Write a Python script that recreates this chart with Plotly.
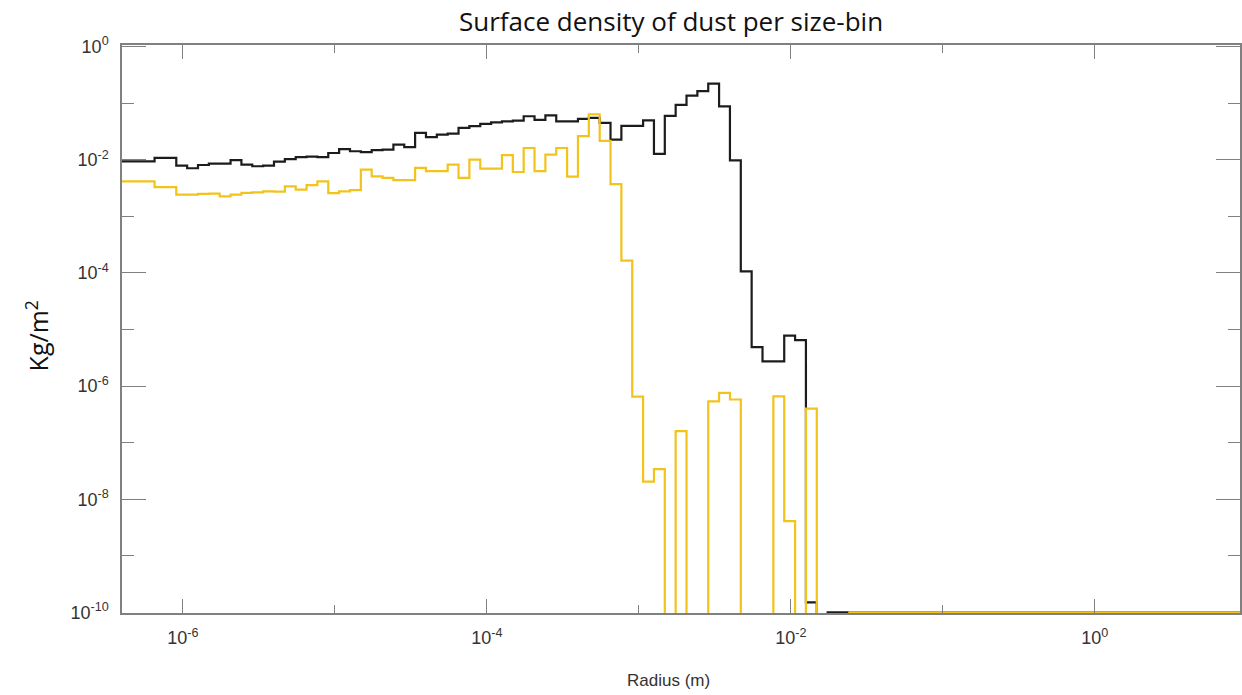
import numpy as np
import plotly.graph_objects as go

# Logarithmic radius grid: 14 bins per decade starting at ~4e-7 m
LOG_R_MIN = -6.401
BINS_PER_DECADE = 14
N_BINS = 103

# Surface density per size bin (kg/m^2); 0 = empty bin, 1e-10 = floor value
sigma_black = [
    9.4e-3, 9.4e-3, 9.4e-3, 1.08e-2, 1.08e-2, 7.9e-3, 7.1e-3, 8.1e-3, 8.6e-3, 8.6e-3,
    9.9e-3, 8.2e-3, 7.7e-3, 7.9e-3, 9.3e-3, 1.03e-2, 1.12e-2, 1.14e-2, 1.12e-2, 1.32e-2,
    1.55e-2, 1.42e-2, 1.37e-2, 1.48e-2, 1.51e-2, 1.86e-2, 1.68e-2, 2.99e-2, 2.52e-2, 2.79e-2,
    2.90e-2, 3.66e-2, 3.94e-2, 4.31e-2, 4.6e-2, 4.8e-2, 4.93e-2, 5.9e-2, 5.1e-2, 6.1e-2,
    4.8e-2, 4.8e-2, 5.3e-2, 5.5e-2, 4.5e-2, 2.27e-2, 4.0e-2, 4.0e-2, 5.0e-2, 1.27e-2,
    6.0e-2, 9.4e-2, 0.136, 0.164, 0.222, 8.8e-2, 9.8e-3, 1.07e-4, 4.9e-6, 2.75e-6,
    2.75e-6, 7.8e-6, 6.5e-6, 1.5e-10, 0.0,
] + [1e-10] * 38

sigma_yellow = [
    4.17e-3, 4.17e-3, 4.17e-3, 3.3e-3, 3.3e-3, 2.43e-3, 2.43e-3, 2.5e-3, 2.53e-3, 2.27e-3,
    2.43e-3, 2.6e-3, 2.67e-3, 2.78e-3, 2.74e-3, 3.4e-3, 2.97e-3, 3.57e-3, 4.17e-3, 2.58e-3,
    2.78e-3, 2.92e-3, 6.7e-3, 5.1e-3, 4.8e-3, 4.38e-3, 4.38e-3, 7.2e-3, 6.3e-3, 6.3e-3,
    8.2e-3, 4.8e-3, 1.01e-2, 7.0e-3, 7.0e-3, 1.21e-2, 6.1e-3, 1.62e-2, 6.3e-3, 1.24e-2,
    1.62e-2, 5.05e-3, 2.62e-2, 6.4e-2, 2.17e-2, 3.72e-3, 1.66e-4, 6.5e-7, 2.06e-8, 3.4e-8,
    0.0, 1.6e-7, 0.0, 0.0, 5.4e-7, 7.6e-7, 5.8e-7, 0.0, 0.0, 0.0,
    6.6e-7, 4.1e-9, 0.0, 4.0e-7, 0.0, 0.0, 0.0,
] + [1e-10] * 36

x_tickvals = [1e-6, 1e-4, 1e-2, 1e0]
x_ticktext = ["10<sup>-6</sup>", "10<sup>-4</sup>", "10<sup>-2</sup>", "10<sup>0</sup>"]
x_minor = [1e-5, 1e-3, 1e-1]
y_tickvals = [1e0, 1e-2, 1e-4, 1e-6, 1e-8, 1e-10]
y_ticktext = ["10<sup>0</sup>", "10<sup>-2</sup>", "10<sup>-4</sup>",
              "10<sup>-6</sup>", "10<sup>-8</sup>", "10<sup>-10</sup>"]
y_minor = [1e-1, 1e-3, 1e-5, 1e-7, 1e-9]

edges = 10 ** (LOG_R_MIN + np.arange(N_BINS + 1) / BINS_PER_DECADE)


def step_xy(values):
    """Histogram outline: left edges plus closing right edge, empty bins pushed below the axis."""
    v = np.asarray(values, dtype=float)
    v = np.where(v > 0, v, 1e-14)
    return edges, np.append(v, v[-1])


fig = go.Figure()
for vals, color in [(sigma_black, "#1c1c1c"), (sigma_yellow, "#F2C31B")]:
    xs, ys = step_xy(vals)
    fig.add_trace(go.Scatter(x=xs, y=ys, mode="lines", line_shape="hv",
                             line=dict(color=color, width=2.2), showlegend=False))

axis_style = dict(
    type="log", showline=True, linecolor="#808080", linewidth=1.5,
    mirror="ticks", ticks="inside", tickcolor="#808080", tickwidth=1.2,
    showgrid=False, zeroline=False,
    tickfont=dict(family="Liberation Sans", size=18, color="#333333"),
)

fig.update_xaxes(**axis_style, range=[LOG_R_MIN, 0.955], tickmode="array",
                 tickvals=x_tickvals, ticktext=x_ticktext, ticklen=14,
                 ticklabelstandoff=8,
                 minor=dict(tickvals=x_minor, ticklen=8, ticks="inside",
                            tickcolor="#808080", tickwidth=1.2))
fig.update_yaxes(**axis_style, range=[-10.01, 0.03], tickmode="array",
                 tickvals=y_tickvals, ticktext=y_ticktext, ticklen=24,
                 ticklabelstandoff=8,
                 minor=dict(tickvals=y_minor, ticklen=12, ticks="inside",
                            tickcolor="#808080", tickwidth=1.2))

fig.update_layout(
    width=1242, height=695,
    margin=dict(l=122, r=0, t=45, b=82),
    paper_bgcolor="white", plot_bgcolor="white",
    title=dict(text="Surface density of dust per size-bin", xref="container",
               x=0.5403, xanchor="center", yref="container", y=0.968,
               yanchor="middle",
               font=dict(family="Open Sans", size=26, color="#111111")),
    annotations=[
        dict(text="Kg/m<sup>2</sup>", xref="paper", yref="paper",
             x=-0.076, y=0.487, textangle=-90, showarrow=False,
             xanchor="center", yanchor="middle",
             font=dict(family="Open Sans", size=25, color="#111111")),
        dict(text="Radius (m)", xref="paper", yref="paper",
             x=0.489, y=-0.118, showarrow=False,
             xanchor="center", yanchor="middle",
             font=dict(family="Liberation Sans", size=17, color="#333333")),
    ],
)

fig.write_html("out.html")
